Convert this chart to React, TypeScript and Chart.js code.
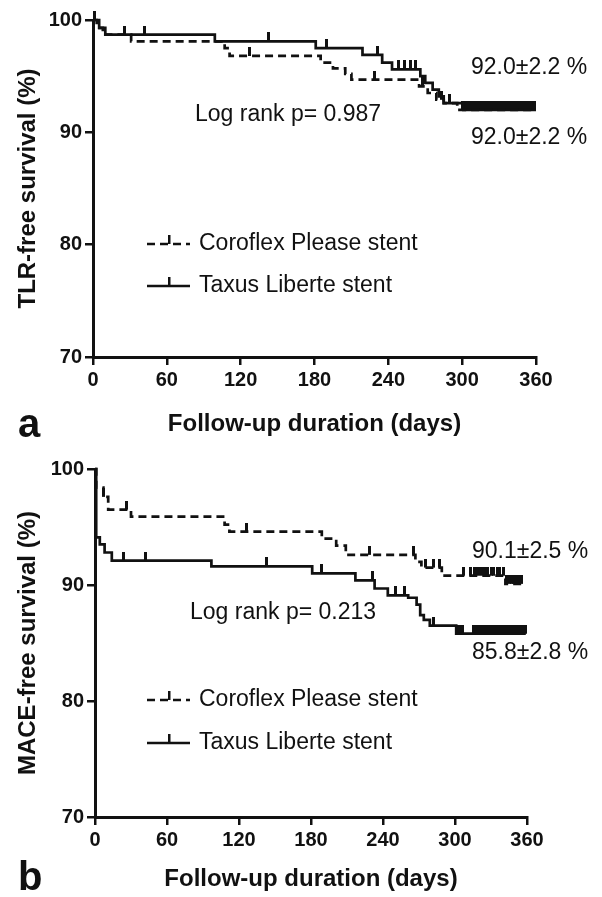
import React, { useEffect, useRef } from 'react';
import { Chart, registerables } from 'chart.js';

Chart.register(...registerables);

const FONT = '"Liberation Sans", Arial, Helvetica, sans-serif';
const INK = '#111111';

// ---------- shared axis ticks ----------
const xTickValues = [0, 60, 120, 180, 240, 300, 360];
const yTickValues = [70, 80, 90, 100];

// ---------- panel a: TLR-free survival ----------
const tlrCoroflexDays = [0, 3, 8, 31, 107, 111, 185, 195, 205, 210, 265, 272, 279, 285, 296, 358];
const tlrCoroflexSurvival = [100, 99.3, 98.7, 98.1, 97.5, 96.8, 96.2, 95.7, 95.2, 94.7, 94.1, 93.5, 92.9, 92.6, 92.0, 92.0];
const tlrTaxusDays = [0, 5, 10, 99, 181, 219, 235, 243, 266, 270, 276, 281, 285, 301, 360];
const tlrTaxusSurvival = [100, 99.3, 98.7, 98.1, 97.5, 96.9, 96.2, 95.6, 95.0, 94.4, 93.8, 93.2, 92.6, 92.0, 92.0];
const tlrCoroflexCensorDays = [1, 26, 127, 229, 268, 283, 300, 303, 308, 311, 313, 316, 318, 320, 322, 324, 326, 329, 331, 334, 337, 340, 343, 346, 349, 352, 355];
const tlrTaxusCensorDays = [42, 143, 190, 231, 248, 253, 258, 262, 290, 305, 307, 310, 312, 314, 317, 319, 321, 323, 325, 328, 330, 332, 335, 338, 341, 344, 347, 350, 353, 356, 359];

// ---------- panel b: MACE-free survival ----------
const maceCoroflexDays = [0, 1, 7, 11, 30, 108, 112, 189, 201, 209, 267, 272, 289, 342, 356];
const maceCoroflexSurvival = [100, 98.4, 97.6, 96.5, 95.9, 95.2, 94.6, 94.0, 93.4, 92.6, 92.0, 91.5, 90.8, 90.1, 90.1];
const maceTaxusDays = [0, 1, 4, 8, 14, 97, 181, 217, 233, 244, 261, 268, 271, 274, 279, 301, 359];
const maceTaxusSurvival = [100, 94.1, 93.5, 92.8, 92.1, 91.6, 91.0, 90.4, 89.7, 89.1, 88.9, 88.3, 87.4, 87.0, 86.5, 85.8, 85.8];
const maceCoroflexCensorDays = [7, 26, 126, 229, 265, 275, 282, 287, 307, 313, 316, 318, 320, 323, 325, 327, 330, 332, 335, 337, 340, 343, 345, 347, 349, 351, 353, 355];
const maceTaxusCensorDays = [24, 42, 143, 189, 231, 250, 258, 282, 302, 304, 306, 315, 317, 319, 321, 323, 325, 327, 329, 331, 333, 335, 337, 339, 341, 343, 345, 347, 349, 351, 353, 355, 357, 359];

const seriesLabels = ['Coroflex Please stent', 'Taxus Liberte stent'];
const tlrNotes = ['92.0\u00B12.2 %', 'Log rank p= 0.987', '92.0\u00B12.2 %'];
const maceNotes = ['90.1\u00B12.5 %', 'Log rank p= 0.213', '85.8\u00B12.8 %'];

function survivalAt(days: number[], surv: number[], t: number) {
  let s = surv[0];
  for (let i = 0; i < days.length; i++) if (days[i] <= t) s = surv[i];
  return s;
}

function toPoints(days: number[], surv: number[]) {
  return days.map((d, i) => ({ x: d, y: surv[i] }));
}

function censorPoints(censor: number[], days: number[], surv: number[]) {
  return censor.map((d) => ({ x: d, y: survivalAt(days, surv, d) }));
}

let tickImg: HTMLCanvasElement | null = null;
function tickCanvas() {
  if (tickImg) return tickImg;
  const c = document.createElement('canvas');
  c.width = 3;
  c.height = 18;
  const ctx = c.getContext('2d')!;
  ctx.fillStyle = INK;
  ctx.fillRect(0, 0, 3, 9);
  tickImg = c;
  return c;
}

interface Spec {
  width: number;
  height: number;
  top: number;
  area: { left: number; right: number; top: number; bottom: number };
  yTitle: string;
  coroDays: number[];
  coroSurv: number[];
  taxusDays: number[];
  taxusSurv: number[];
  coroCensor: number[];
  taxusCensor: number[];
  notes: { text: string; x: number; y: number }[];
  legendY: number[];
  letter: string;
  letterY: number;
  xTitlePad: number;
  yTitlePad: number;
}

const specA: Spec = {
  width: 602,
  height: 448,
  top: 0,
  area: { left: 93, right: 536, top: 20, bottom: 357 },
  yTitle: 'TLR-free survival (%)',
  coroDays: tlrCoroflexDays,
  coroSurv: tlrCoroflexSurvival,
  taxusDays: tlrTaxusDays,
  taxusSurv: tlrTaxusSurvival,
  coroCensor: tlrCoroflexCensorDays,
  taxusCensor: tlrTaxusCensorDays,
  notes: [
    { text: tlrNotes[0], x: 471, y: 68 },
    { text: tlrNotes[1], x: 195, y: 115 },
    { text: tlrNotes[2], x: 471, y: 138 },
  ],
  legendY: [244, 286],
  letter: 'a',
  letterY: 437,
  xTitlePad: 9,
  yTitlePad: 14,
};

const specB: Spec = {
  width: 602,
  height: 449,
  top: 448,
  area: { left: 95, right: 527, top: 21, bottom: 369 },
  yTitle: 'MACE-free survival (%)',
  coroDays: maceCoroflexDays,
  coroSurv: maceCoroflexSurvival,
  taxusDays: maceTaxusDays,
  taxusSurv: maceTaxusSurvival,
  coroCensor: maceCoroflexCensorDays,
  taxusCensor: maceTaxusCensorDays,
  notes: [
    { text: maceNotes[0], x: 472, y: 104 },
    { text: maceNotes[1], x: 190, y: 165 },
    { text: maceNotes[2], x: 472, y: 205 },
  ],
  legendY: [252, 295],
  letter: 'b',
  letterY: 442,
  xTitlePad: 3,
  yTitlePad: 14,
};

function overlayPlugin(spec: Spec) {
  return {
    id: 'overlay_' + spec.letter,
    afterDraw(chart: any) {
      const ctx: CanvasRenderingContext2D = chart.ctx;
      ctx.save();
      ctx.fillStyle = INK;
      ctx.strokeStyle = INK;
      ctx.font = `23px ${FONT}`;
      ctx.textAlign = 'left';
      ctx.textBaseline = 'middle';
      for (const n of spec.notes) ctx.fillText(n.text, n.x, n.y);

      // legend
      const labels = chart.data.datasets.slice(0, 2).map((d: any) => d.label);
      labels.forEach((label: string, i: number) => {
        const y = spec.legendY[i];
        ctx.lineWidth = 2.6;
        ctx.setLineDash(i === 0 ? [8, 5] : []);
        ctx.beginPath();
        ctx.moveTo(147, y);
        ctx.lineTo(190, y);
        ctx.stroke();
        ctx.setLineDash([]);
        ctx.fillRect(168, y - 9, 2.5, 9);
        ctx.fillText(label, 199, y);
      });

      ctx.font = `bold 40px ${FONT}`;
      ctx.textBaseline = 'alphabetic';
      ctx.fillText(spec.letter, 18, spec.letterY);
      ctx.restore();
    },
  };
}

function buildConfig(spec: Spec): any {
  const tick = tickCanvas();
  const axisCommon = {
    grid: {
      drawOnChartArea: false,
      drawTicks: true,
      tickLength: 8,
      color: INK,
      tickColor: INK,
      lineWidth: 2.5,
      tickWidth: 2.5,
    },
    border: { display: true, color: INK, width: 3 },
  };
  return {
    type: 'line',
    data: {
      datasets: [
        {
          label: seriesLabels[0],
          data: toPoints(spec.coroDays, spec.coroSurv),
          stepped: true,
          borderColor: INK,
          borderWidth: 2.7,
          borderDash: [8, 5],
          pointRadius: 0,
          fill: false,
          clip: false,
        },
        {
          label: seriesLabels[1],
          data: toPoints(spec.taxusDays, spec.taxusSurv),
          stepped: true,
          borderColor: INK,
          borderWidth: 2.7,
          pointRadius: 0,
          fill: false,
          clip: false,
        },
        {
          label: seriesLabels[0] + ' censored',
          data: censorPoints(spec.coroCensor, spec.coroDays, spec.coroSurv),
          showLine: false,
          pointStyle: tick,
          pointRadius: 5,
          pointHoverRadius: 5,
          clip: false,
        },
        {
          label: seriesLabels[1] + ' censored',
          data: censorPoints(spec.taxusCensor, spec.taxusDays, spec.taxusSurv),
          showLine: false,
          pointStyle: tick,
          pointRadius: 5,
          pointHoverRadius: 5,
          clip: false,
        },
      ],
    },
    options: {
      animation: false,
      responsive: false,
      devicePixelRatio: 1,
      events: [],
      layout: {
        padding: {
          left: 0,
          top: spec.area.top,
          right: spec.width - spec.area.right,
          bottom: 0,
        },
      },
      plugins: { legend: { display: false }, tooltip: { enabled: false } },
      scales: {
        x: {
          type: 'linear',
          min: 0,
          max: 360,
          ...axisCommon,
          afterBuildTicks: (s: any) => {
            s.ticks = xTickValues.map((v) => ({ value: v }));
          },
          ticks: {
            color: INK,
            padding: 3,
            maxRotation: 0,
            autoSkip: false,
            font: { family: FONT, size: 20, weight: 'bold' },
          },
          title: {
            display: true,
            text: 'Follow-up duration (days)',
            color: INK,
            font: { family: FONT, size: 24, weight: 'bold' },
            padding: { top: 0, bottom: spec.xTitlePad },
          },
          afterFit: (s: any) => {
            s.height = spec.height - spec.area.bottom;
          },
        },
        y: {
          type: 'linear',
          min: 70,
          max: 100,
          ...axisCommon,
          afterBuildTicks: (s: any) => {
            s.ticks = yTickValues.map((v) => ({ value: v }));
          },
          ticks: {
            color: INK,
            padding: 3,
            autoSkip: false,
            font: { family: FONT, size: 20, weight: 'bold' },
          },
          title: {
            display: true,
            text: spec.yTitle,
            color: INK,
            font: { family: FONT, size: 24, weight: 'bold' },
            padding: { top: spec.yTitlePad, bottom: 0 },
          },
          afterFit: (s: any) => {
            s.width = spec.area.left;
          },
        },
      },
    },
    plugins: [overlayPlugin(spec)],
  };
}

function Panel({ spec }: { spec: Spec }) {
  const ref = useRef<HTMLCanvasElement | null>(null);
  useEffect(() => {
    if (!ref.current) return;
    const chart = new Chart(ref.current, buildConfig(spec));
    return () => chart.destroy();
  }, [spec]);
  return (
    <canvas
      ref={ref}
      width={spec.width}
      height={spec.height}
      style={{
        position: 'absolute',
        left: 0,
        top: spec.top,
        width: spec.width,
        height: spec.height,
        display: 'block',
      }}
    />
  );
}

export default function App() {
  return (
    <div
      style={{
        position: 'absolute',
        left: 0,
        top: 0,
        width: 602,
        height: 897,
        background: '#ffffff',
        overflow: 'hidden',
      }}
    >
      <Panel spec={specA} />
      <Panel spec={specB} />
    </div>
  );
}
